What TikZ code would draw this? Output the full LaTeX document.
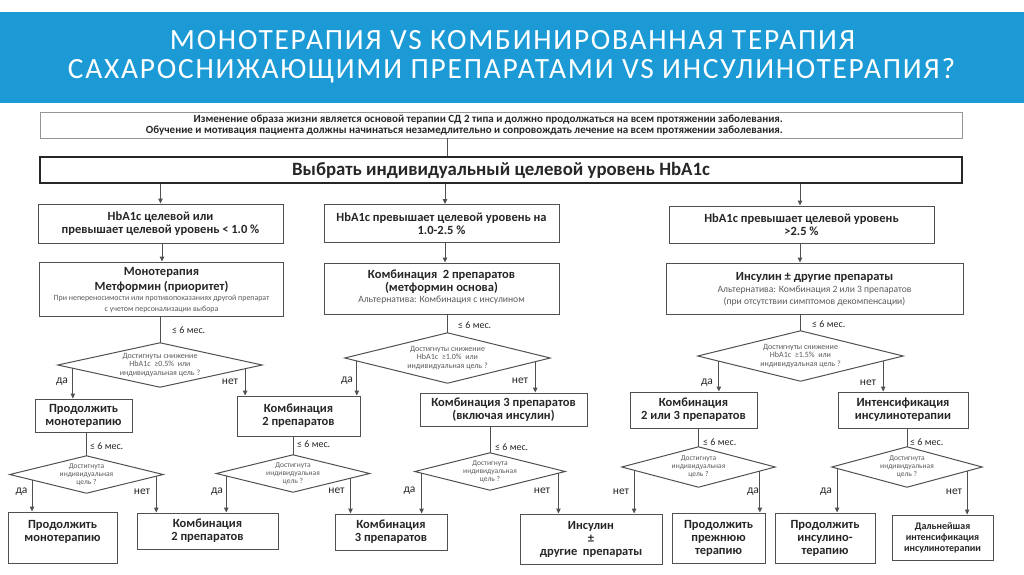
\documentclass[tikz,border=0pt]{standalone}
\usepackage{fontspec}
\setmainfont{Carlito}
\newfontfamily\titlefont[LetterSpace=6]{Carlito}
\usetikzlibrary{arrows.meta,calc}
\definecolor{band}{RGB}{27,154,214}
\definecolor{ink}{RGB}{38,38,38}
\definecolor{edge}{RGB}{80,80,80}
\definecolor{dgray}{RGB}{90,90,90}
\definecolor{lgray}{RGB}{150,150,150}
\newcommand{\fsz}[2]{\fontsize{#1}{#2}\selectfont}
\newcommand{\smalltxt}{\mdseries\color{dgray}\fsz{7.9}{8}}
\newcommand{\alttxt}{\mdseries\color{dgray}\fsz{9.6}{10}}
\newcommand{\dpath}[1]{\draw[conn] (#1.west) -- (#1.north) -- (#1.east) -- (#1.south) -- cycle;}
\tikzset{
  base/.style={text=ink, align=center, inner sep=0pt},
  box/.style={base, draw=edge, line width=1pt, fill=white, font=\bfseries\fsz{12.5}{13}},
  btext/.style={base, font=\bfseries\fsz{12.5}{13}},
  conn/.style={draw=edge, line width=1pt},
  arr/.style={conn, -{Triangle[length=5pt,width=4.5pt]}},
  dtext/.style={base, text=dgray, font=\fsz{7.5}{8}},
  lbl/.style={base, font=\fsz{11.5}{13}},
  mes/.style={base, font=\fsz{10}{12}, anchor=west},
}
\begin{document}
\begin{tikzpicture}[x=1pt,y=-1pt]
\useasboundingbox (0,0) rectangle (1024,574);
% title band
\fill[band] (0,12) rectangle (1024,103);
\node[base, text=white, anchor=base] (title1) at (512.5,49) {\resizebox{685pt}{!}{\titlefont\fsz{26}{30}МОНОТЕРАПИЯ VS КОМБИНИРОВАННАЯ ТЕРАПИЯ}};
\node[base, text=white, anchor=base] (title2) at (511.5,78.5) {\resizebox{887pt}{!}{\titlefont\fsz{26}{30}САХАРОСНИЖАЮЩИМИ ПРЕПАРАТАМИ VS ИНСУЛИНОТЕРАПИЯ?}};

% top note
\node[draw=lgray, line width=0.8pt, minimum width=922, minimum height=26, inner sep=0pt] (top) at (501,125) {};
\node[base, align=right, anchor=east, font=\bfseries\fsz{11}{11}] (toptext) at (783,125.5)
 {Изменение образа жизни является основой терапии СД 2 типа и должно продолжаться на всем протяжении заболевания.\\
  Обучение и мотивация пациента должны начинаться незамедлительно и сопровождать лечение на всем протяжении заболевания.};
% goal
\node[base, draw=ink, line width=1.8pt, minimum width=922, minimum height=26, font=\bfseries\fsz{18.8}{20}] (goal) at (501,170) {Выбрать индивидуальный целевой уровень HbA1c};
\draw[conn] (top.south -| 447,0) -- (goal.north -| 447,0);

% criteria boxes
\node[box, minimum width=245, minimum height=39] (b1) at (160.5,223.5) {HbA1c целевой или\\превышает целевой уровень < 1.0 \%};
\node[box, minimum width=235, minimum height=38] (b2) at (441.5,223.5) {HbA1c превышает целевой уровень на\\1.0-2.5 \%};
\node[box, minimum width=265, minimum height=37] (b3) at (801.5,224.5) {HbA1c превышает целевой уровень\\>2.5 \%};
\draw[arr] (goal.south -| b1.north) -- (b1.north);
\draw[arr] (goal.south -| 445,0) -- (b2.north -| 445,0);
\draw[arr] (goal.south -| 800,0) -- (b3.north -| 800,0);

% therapy boxes
\node[box, minimum width=244, minimum height=54] (t1) at (161.5,289) {};
\node[btext] (t1t) at (161.5,290) {Монотерапия\\[2pt]Метформин (приоритет)\\[-3pt]\smalltxt При непереносимости или противопоказаниях другой препарат\\[-2pt]\smalltxt с учетом персонализации выбора};
\node[box, minimum width=235, minimum height=51] (t2) at (441.5,288.5) {};
\node[btext] (t2t) at (441.5,287) {Комбинация~~2 препаратов\\(метформин основа)\\[-2pt]\alttxt Альтернатива: Комбинация с инсулином};
\node[box, minimum width=297, minimum height=51] (t3) at (814.5,288.5) {};
\node[btext] (t3t) at (814.5,289) {Инсулин ± другие препараты\\[-1pt]\alttxt Альтернатива: Комбинация 2 или 3 препаратов\\[-1pt]\alttxt (при отсутствии симптомов декомпенсации)};
\draw[arr] (b1.south -| 162,0) -- (t1.north -| 162,0);
\draw[arr] (b2.south -| 445,0) -- (t2.north -| 445,0);
\draw[arr] (b3.south -| 800,0) -- (t3.north -| 800,0);

% first diamonds
\node[dtext, font=\fsz{8}{8.5}, minimum width=204, minimum height=44] (d1) at (160,365) {Достигнуты снижение\\HbA1c~~≥0.5\%~~или\\индивидуальная цель ?};
\node[dtext, font=\fsz{8}{8.5}, minimum width=205, minimum height=50] (d2) at (447.5,358) {Достигнуты снижение\\HbA1c~~≥1.0\%~~или\\индивидуальная цель ?};
\node[dtext, font=\fsz{8}{8.5}, minimum width=205, minimum height=50] (d3) at (800.5,356) {Достигнуты снижение\\HbA1c~~≥1.5\%~~или\\индивидуальная цель ?};
\dpath{d1}\dpath{d2}\dpath{d3}
\draw[conn] (d1.north |- t1.south) -- (d1.north);
\draw[conn] (d2.north |- t2.south) -- (d2.north);
\draw[conn] (d3.north |- t3.south) -- (d3.north);
\node[mes] (m1) at (172,330) {≤ 6 мес.};
\node[mes] (m2) at (458,325) {≤ 6 мес.};
\node[mes] (m3) at (812,324) {≤ 6 мес.};

% second row boxes
\node[box, minimum width=97, minimum height=33] (c1) at (83.5,415.5) {Продолжить\\монотерапию};
\node[box, minimum width=123, minimum height=40] (c2) at (298.5,416) {Комбинация\\2 препаратов};
\node[box, minimum width=167, minimum height=33] (c3) at (503.5,409.5) {Комбинация 3 препаратов\\(включая инсулин)};
\node[box, minimum width=127, minimum height=36] (c4) at (693.5,410) {Комбинация\\2 или 3 препаратов};
\node[box, minimum width=130, minimum height=36] (c5) at (903,410) {Интенсификация\\инсулинотерапии};

\coordinate (d1y) at ($(d1.west)!0.147!(d1.south)$);
\coordinate (d1n) at ($(d1.east)!0.167!(d1.south)$);
\coordinate (d2y) at ($(d2.west)!0.117!(d2.south)$);
\coordinate (d2n) at ($(d2.east)!0.146!(d2.south)$);
\coordinate (d3y) at ($(d3.west)!0.205!(d3.south)$);
\coordinate (d3n) at ($(d3.east)!0.195!(d3.south)$);
\draw[arr] (d1y) -- (d1y |- c1.north);
\draw[arr] (d1n) -- (d1n |- c2.north);
\draw[arr] (d2y) -- (d2y |- c2.north);
\draw[arr] (d2n) -- (d2n |- c3.north);
\draw[arr] (d3y) -- (d3y |- c4.north);
\draw[arr] (d3n) -- (d3n |- c5.north);
\node[lbl] (l1) at (62,382) {да};
\node[lbl] (l2) at (230,382) {нет};
\node[lbl] (l3) at (347,381) {да};
\node[lbl] (l4) at (520,381) {нет};
\node[lbl] (l5) at (707,383) {да};
\node[lbl] (l6) at (868,383) {нет};

% second diamonds
\node[dtext, minimum width=153, minimum height=37] (e1) at (86.5,474.5) {Достигнута\\индивидуальная\\цель ?};
\node[dtext, minimum width=153, minimum height=37] (e2) at (293,473.5) {Достигнута\\индивидуальная\\цель ?};
\node[dtext, minimum width=150, minimum height=37] (e3) at (490,471.5) {Достигнута\\индивидуальная\\цель ?};
\node[dtext, minimum width=153, minimum height=40] (e4) at (698.5,467) {Достигнута\\индивидуальная\\цель ?};
\node[dtext, minimum width=150, minimum height=40] (e5) at (907,467) {Достигнута\\индивидуальная\\цель ?};
\dpath{e1}\dpath{e2}\dpath{e3}\dpath{e4}\dpath{e5}
\draw[conn] (e1.north |- c1.south) -- (e1.north);
\draw[conn] (e2.north |- c2.south) -- (e2.north);
\draw[conn] (e3.north |- c3.south) -- (e3.north);
\draw[conn] (e4.north |- c4.south) -- (e4.north);
\draw[conn] (e5.north |- c5.south) -- (e5.north);
\node[mes] (m4) at (90,446) {≤ 6 мес.};
\node[mes] (m5) at (297,444) {≤ 6 мес.};
\node[mes] (m6) at (495,447) {≤ 6 мес.};
\node[mes] (m7) at (703,442) {≤ 6 мес.};
\node[mes] (m8) at (910,442) {≤ 6 мес.};

% bottom boxes
\node[box, minimum width=109, minimum height=51] (f1) at (62.5,537.5) {};
\node[btext] (f1t) at (62.5,532) {Продолжить\\монотерапию};
\node[box, minimum width=141, minimum height=36] (f2) at (207.5,531) {Комбинация\\2 препаратов};
\node[box, minimum width=112, minimum height=36] (f3) at (391,532) {Комбинация\\3 препаратов};
\node[box, minimum width=142, minimum height=50] (f4) at (591,539) {Инсулин\\±\\другие~~препараты};
\node[box, minimum width=93, minimum height=50] (f5) at (718.5,538) {Продолжить\\прежнюю\\терапию};
\node[box, minimum width=100, minimum height=50] (f6) at (825,538) {Продолжить\\инсулино-\\терапию};
\node[box, minimum width=101, minimum height=45, font=\bfseries\fsz{10}{11}] (f7) at (942.5,537.5) {Дальнейшая\\интенсификация\\инсулинотерапии};

\coordinate (e1y) at ($(e1.west)!0.29!(e1.south)$);
\coordinate (e1n) at ($(e1.east)!0.09!(e1.south)$);
\coordinate (e2y) at ($(e2.west)!0.13!(e2.south)$);
\coordinate (e2n) at ($(e2.east)!0.25!(e2.south)$);
\coordinate (e3y) at ($(e3.west)!0.09!(e3.south)$);
\coordinate (e3n) at ($(e3.east)!0.09!(e3.south)$);
\coordinate (e4n) at ($(e4.west)!0.16!(e4.south)$);
\coordinate (e4y) at ($(e4.east)!0.2!(e4.south)$);
\coordinate (e5y) at ($(e5.west)!0.07!(e5.south)$);
\coordinate (e5n) at ($(e5.east)!0.2!(e5.south)$);
\draw[arr] (e1y) -- (e1y |- f1.north);
\draw[arr] (e1n) -- (e1n |- f2.north);
\draw[arr] (e2y) -- (e2y |- f2.north);
\draw[arr] (e2n) -- (e2n |- f3.north);
\draw[arr] (e3y) -- (e3y |- f3.north);
\draw[arr] (e3n) -- (e3n |- f4.north);
\draw[arr] (e4n) -- (e4n |- f4.north);
\draw[arr] (e4y) -- (e4y |- f5.north);
\draw[arr] (e5y) -- (e5y |- f6.north);
\draw[arr] (e5n) -- (e5n |- f7.north);
\node[lbl] (k1) at (21.5,492) {да};
\node[lbl] (k2) at (142,492) {нет};
\node[lbl] (k3) at (217,492) {да};
\node[lbl] (k4) at (336.5,491) {нет};
\node[lbl] (k5) at (409.5,491) {да};
\node[lbl] (k6) at (542,491) {нет};
\node[lbl] (k7) at (621,492) {нет};
\node[lbl] (k8) at (753,492) {да};
\node[lbl] (k9) at (826,492) {да};
\node[lbl] (k10) at (954,492) {нет};
\end{tikzpicture}
\end{document}
